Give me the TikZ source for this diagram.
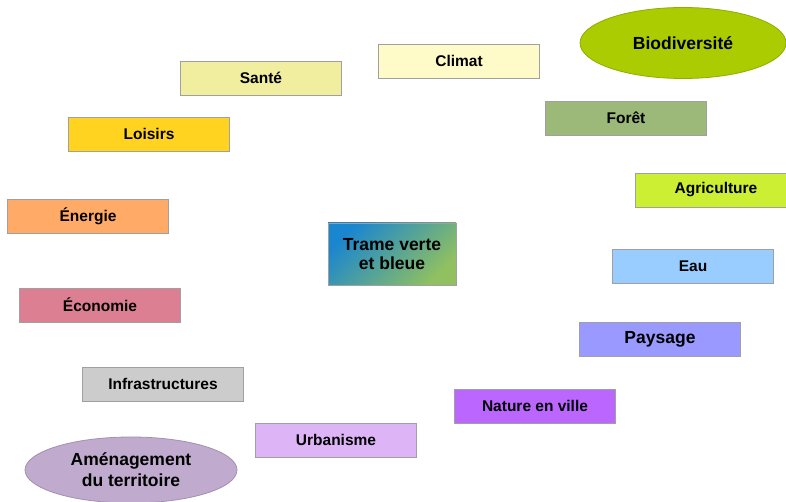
\documentclass[tikz,border=0pt]{standalone}
\usepackage{fontspec}
\setmainfont{Liberation Sans}
\usetikzlibrary{shapes.geometric}
\definecolor{cSante}{HTML}{F2EEA0}
\definecolor{cClimat}{HTML}{FFFBC8}
\definecolor{cBio}{HTML}{AACC00}
\definecolor{cLoisirs}{HTML}{FFD320}
\definecolor{cForet}{HTML}{9CB97A}
\definecolor{cAgri}{HTML}{CCEE33}
\definecolor{cEnergie}{HTML}{FFAA66}
\definecolor{cEco}{HTML}{DD7F92}
\definecolor{cEau}{HTML}{99CCFF}
\definecolor{cPaysage}{HTML}{9999FF}
\definecolor{cNature}{HTML}{BB66FF}
\definecolor{cInfra}{HTML}{CCCCCC}
\definecolor{cUrba}{HTML}{DDB5F7}
\definecolor{cAmen}{HTML}{C0AACD}
\definecolor{cTvA}{HTML}{1A86CF}
\definecolor{cTvB}{HTML}{90C060}
\definecolor{cEdge}{HTML}{A0A0A0}
\tikzset{
  theme/.style={draw=cEdge, line width=0.8pt, minimum width=161pt, minimum height=34pt,
    inner sep=0pt, font=\fontsize{15.5}{18}\selectfont\bfseries, text=black},
  bigtheme/.style={font=\fontsize{17.5}{20}\selectfont\bfseries, text=black, align=center, inner sep=0pt},
  oval/.style={ellipse, bigtheme, line width=0.8pt}
}
\begin{document}
\begin{tikzpicture}[x=1pt,y=-1pt]
\useasboundingbox[fill=white] (0,0) rectangle (786,502);
\node[theme, fill=cSante] (sante) at (261,78) {Santé};
\node[theme, fill=cClimat] (climat) at (459,61) {Climat};
\node[oval, fill=cBio, draw=cBio!85!black, minimum width=206pt, minimum height=71pt] (bio) at (683,43) {Biodiversité};
\node[theme, fill=cLoisirs] (loisirs) at (149,134) {Loisirs};
\node[theme, fill=cForet] (foret) at (626,118) {Forêt};
\node[theme, fill=cAgri] (agri) at (716,190) {Agriculture};
\node[theme, fill=cEnergie] (energie) at (88,216) {Énergie};
\node[theme, fill=cEco] (eco) at (100,305) {Économie};
\node[bigtheme, draw=cEdge, line width=0.8pt, minimum width=128pt, minimum height=62pt,
  left color=cTvA, right color=cTvB, shading angle=45] (tvb) at (392,254) {Trame verte\\[-1pt]et bleue};
\node[theme, fill=cEau] (eau) at (693,266) {Eau};
\node[theme, fill=cPaysage, font=\fontsize{17.5}{20}\selectfont\bfseries] (paysage) at (660,339) {Paysage};
\node[theme, fill=cNature] (nature) at (535,406) {Nature en ville};
\node[theme, fill=cInfra] (infra) at (163,384) {Infrastructures};
\node[theme, fill=cUrba] (urba) at (336,440) {Urbanisme};
\node[oval, fill=cAmen, draw=cAmen!85!black, minimum width=212pt, minimum height=66pt] (amen) at (131,470) {Aménagement\\[1pt]du territoire};
\end{tikzpicture}
\end{document}
